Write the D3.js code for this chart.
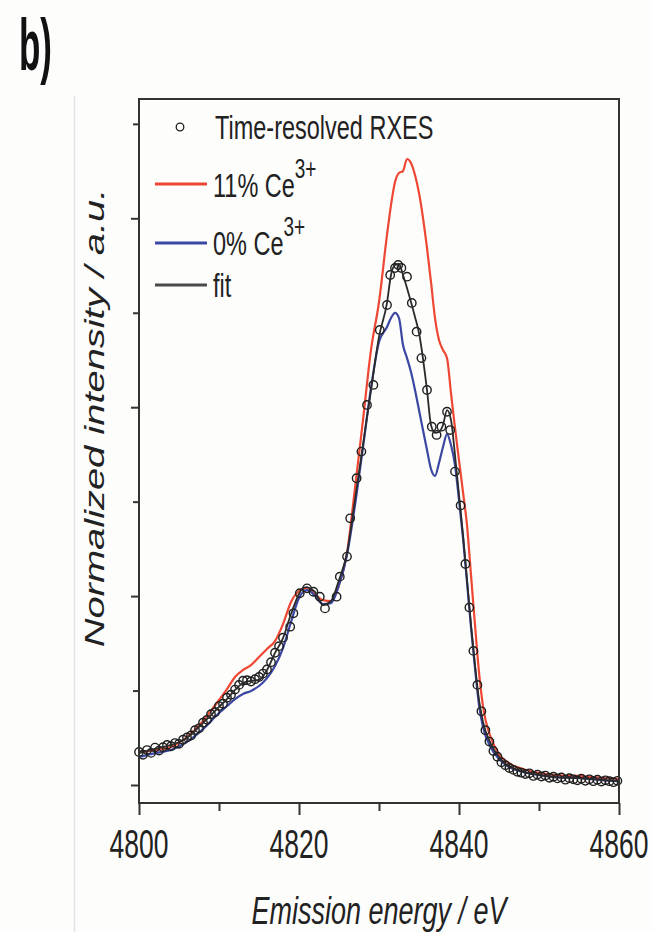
<!DOCTYPE html>
<html>
<head>
<meta charset="utf-8">
<script src="https://cdn.jsdelivr.net/npm/d3@7/dist/d3.min.js"></script>
<style>
  html, body { margin: 0; padding: 0; background: #fdfdfc; }
  svg { display: block; font-family: "Liberation Sans", Arial, sans-serif; }
</style>
</head>
<body>
<div id="chart"></div>
<script>
// Emission energy grid (eV) shared by the three curves
const energy = [4800, 4802, 4804, 4806, 4808, 4810, 4811, 4812, 4813, 4814, 4815, 4816, 4817, 4818, 4819,
  4820, 4820.5, 4821, 4821.5, 4822, 4823, 4824, 4825, 4826, 4827, 4828, 4829, 4830, 4831, 4831.5,
  4832, 4832.5, 4833, 4833.5, 4834, 4834.5, 4835, 4836, 4836.5, 4837, 4837.5, 4838, 4838.5, 4839, 4839.5,
  4840, 4840.5, 4841, 4841.5, 4842, 4842.5, 4843, 4844, 4845, 4846, 4848, 4850, 4852, 4855, 4858, 4860];

// 11% Ce3+ reference (red)
const ce11 = [0.175, 0.185, 0.201, 0.254, 0.339, 0.450, 0.508, 0.572, 0.609, 0.635, 0.678, 0.720, 0.762, 0.852, 0.969,
  1.027, 1.038, 1.043, 1.032, 1.011, 0.979, 0.974, 1.059, 1.228, 1.572, 1.932, 2.303, 2.557, 2.912, 3.070,
  3.192, 3.240, 3.250, 3.314, 3.293, 3.229, 3.134, 2.843, 2.663, 2.472, 2.356, 2.303, 2.260, 2.075, 1.890,
  1.720, 1.551, 1.376, 1.112, 0.847, 0.598, 0.418, 0.249, 0.164, 0.122, 0.085, 0.064, 0.053, 0.048, 0.037, 0.032];

// 0% Ce3+ reference (blue)
const ce0 = [0.148, 0.169, 0.185, 0.228, 0.296, 0.381, 0.418, 0.455, 0.482, 0.498, 0.524, 0.566, 0.630, 0.725, 0.863,
  0.990, 1.022, 1.032, 1.022, 1.001, 0.958, 0.963, 1.059, 1.218, 1.482, 1.789, 2.102, 2.345, 2.425, 2.472,
  2.499, 2.472, 2.329, 2.260, 2.186, 2.091, 1.985, 1.773, 1.673, 1.636, 1.705, 1.789, 1.858, 1.800, 1.694,
  1.509, 1.308, 1.075, 0.836, 0.619, 0.424, 0.307, 0.196, 0.138, 0.101, 0.069, 0.053, 0.042, 0.037, 0.026, 0.021];

// linear combination fit (black)
const fit = [0.169, 0.191, 0.212, 0.249, 0.328, 0.413, 0.455, 0.503, 0.540, 0.551, 0.556, 0.609, 0.699, 0.778, 0.905,
  1.011, 1.043, 1.048, 1.038, 1.022, 0.953, 0.974, 1.085, 1.228, 1.510, 1.800, 2.091, 2.372, 2.552, 2.700,
  2.753, 2.758, 2.700, 2.631, 2.557, 2.478, 2.393, 2.091, 1.906, 1.864, 1.869, 1.906, 1.985, 1.932, 1.747,
  1.535, 1.324, 1.085, 0.847, 0.635, 0.450, 0.334, 0.217, 0.148, 0.106, 0.069, 0.053, 0.042, 0.037, 0.026, 0.021];

// time-resolved RXES measurement (open circles)
const rxesEnergy = [4800, 4800.5, 4801, 4801.5, 4802, 4802.5, 4803, 4803.5, 4804, 4804.5, 4805, 4805.5, 4806, 4806.5,
  4807, 4807.5, 4808, 4808.5, 4809, 4809.5, 4810, 4810.5, 4811, 4811.5, 4812, 4812.5, 4813, 4813.5, 4814, 4814.5,
  4815, 4815.5, 4816, 4816.5, 4817, 4817.5, 4818,
  4818.9, 4819.3, 4820.1, 4821.0, 4821.8, 4822.6, 4823.25, 4824.7, 4825.1, 4826.0, 4826.4, 4827.2, 4827.8, 4828.5,
  4829.3, 4830.1, 4831.0, 4831.4, 4832.0, 4832.4, 4832.8, 4833.5, 4834.1, 4834.7, 4835.3, 4836.0, 4836.6, 4837.2,
  4837.8, 4838.5, 4838.9, 4839.5,
  4840.2, 4840.8, 4841.3, 4841.8, 4842.3, 4842.8, 4843.3, 4843.8, 4844.3, 4844.8, 4845.3, 4845.8, 4846.3, 4846.8,
  4847.3, 4847.8, 4848.3, 4848.8, 4849.3, 4849.8, 4850.3, 4850.8, 4851.3, 4851.8, 4852.3, 4852.8, 4853.3, 4853.8,
  4854.3, 4854.8, 4855.3, 4855.8, 4856.3, 4856.8, 4857.3, 4857.8, 4858.3, 4858.8, 4859.3, 4859.8];
const rxes = [0.175, 0.160, 0.185, 0.170, 0.198, 0.182, 0.200, 0.212, 0.205, 0.222, 0.218, 0.240, 0.252, 0.262,
  0.290, 0.300, 0.330, 0.345, 0.375, 0.385, 0.418, 0.430, 0.462, 0.478, 0.505, 0.530, 0.552, 0.555, 0.548, 0.560,
  0.572, 0.590, 0.612, 0.650, 0.700, 0.735, 0.780,
  0.838, 0.909, 1.015, 1.041, 1.023, 0.997, 0.935, 0.997, 1.103, 1.209, 1.412, 1.624, 1.765, 2.012,
  2.118, 2.409, 2.541, 2.700, 2.737, 2.753, 2.737, 2.691, 2.552, 2.400, 2.260, 2.091, 1.897, 1.853,
  1.897, 1.976, 1.879, 1.659,
  1.480, 1.170, 0.940, 0.710, 0.530, 0.390, 0.290, 0.230, 0.180, 0.150, 0.120, 0.105, 0.090, 0.080,
  0.070, 0.065, 0.058, 0.062, 0.048, 0.055, 0.045, 0.050, 0.038, 0.044, 0.035, 0.040, 0.028, 0.036,
  0.030, 0.025, 0.033, 0.022, 0.030, 0.020, 0.028, 0.018, 0.025, 0.020, 0.015, 0.022];

const xMajorTicks = [4800, 4820, 4840, 4860];
const xMinorTicks = [4810, 4830, 4850];
const yMajorTicks = [0, 1, 2, 3];
const yMinorTicks = [0.5, 1.5, 2.5, 3.5];

const legendItems = [
  { label: 'Time-resolved RXES', sup: '', kind: 'circle' },
  { label: '11% Ce', sup: '3+', kind: 'red' },
  { label: '0% Ce', sup: '3+', kind: 'blue' },
  { label: 'fit', sup: '', kind: 'fit' }
];

const W = 653, H = 932;
const box = { left: 139, right: 619, top: 99, bottom: 803 };
const colors = { red: '#ee4733', blue: '#3a47a3', fit: '#2a2a2a', text: '#222' };
const stretch = 1.45; // glyphs in the figure are vertically stretched

const svg = d3.select('#chart').append('svg')
  .attr('width', W)
  .attr('height', H);

svg.append('rect').attr('width', W).attr('height', H).attr('fill', '#fdfdfc');

// faint panel edge
svg.append('line')
  .attr('x1', 74.5).attr('x2', 74.5).attr('y1', 96).attr('y2', H)
  .attr('stroke', '#e4e4e4').attr('stroke-width', 1.5);

const x = d3.scaleLinear().domain([4800, 4860]).range([box.left, box.right]);
const y = d3.scaleLinear().domain([-0.0953, 3.6316]).range([box.bottom, box.top]);

// helper to draw vertically stretched text
function stretchedText(g, px, py, str, size, opts = {}) {
  const t = g.append('text')
    .attr('transform', `translate(${px},${py}) scale(1,${opts.sy || stretch})`)
    .attr('font-size', size)
    .attr('fill', colors.text)
    .attr('text-anchor', opts.anchor || 'start')
    .attr('font-style', opts.italic ? 'italic' : 'normal')
    .attr('font-weight', opts.bold ? 'bold' : 'normal')
    .text(str);
  return t;
}

// curves
const lineGen = ys => d3.line()
  .x((d, i) => x(energy[i]))
  .y((d, i) => y(ys[i]))
  .curve(d3.curveMonotoneX)(ys);

svg.append('path').attr('d', lineGen(ce11))
  .attr('fill', 'none').attr('stroke', colors.red).attr('stroke-width', 2.2);
svg.append('path').attr('d', lineGen(ce0))
  .attr('fill', 'none').attr('stroke', colors.blue).attr('stroke-width', 2.2);

svg.append('g').selectAll('circle')
  .data(rxes)
  .enter()
  .append('circle')
  .attr('cx', (d, i) => x(rxesEnergy[i]))
  .attr('cy', d => y(d))
  .attr('r', 4.2)
  .attr('fill', 'none')
  .attr('stroke', '#1e1e1e')
  .attr('stroke-width', 1.4);

svg.append('path').attr('d', lineGen(fit))
  .attr('fill', 'none').attr('stroke', colors.fit).attr('stroke-width', 1.8);

// frame
svg.append('rect')
  .attr('x', box.left).attr('y', box.top)
  .attr('width', box.right - box.left).attr('height', box.bottom - box.top)
  .attr('fill', 'none').attr('stroke', '#333').attr('stroke-width', 2);

// x axis ticks
svg.append('g')
  .attr('transform', `translate(0,${box.bottom})`)
  .call(d3.axisBottom(x).tickValues(xMajorTicks).tickSize(12).tickFormat(''))
  .call(g => g.select('.domain').remove())
  .selectAll('line').attr('stroke', '#333').attr('stroke-width', 2);
svg.append('g')
  .attr('transform', `translate(0,${box.bottom})`)
  .call(d3.axisBottom(x).tickValues(xMinorTicks).tickSize(8).tickFormat(''))
  .call(g => g.select('.domain').remove())
  .selectAll('line').attr('stroke', '#333').attr('stroke-width', 2);

// y axis ticks (no labels)
svg.append('g')
  .attr('transform', `translate(${box.left},0)`)
  .call(d3.axisLeft(y).tickValues(yMajorTicks).tickSize(8).tickFormat(''))
  .call(g => g.select('.domain').remove())
  .selectAll('line').attr('stroke', '#333').attr('stroke-width', 2);
svg.append('g')
  .attr('transform', `translate(${box.left},0)`)
  .call(d3.axisLeft(y).tickValues(yMinorTicks).tickSize(6).tickFormat(''))
  .call(g => g.select('.domain').remove())
  .selectAll('line').attr('stroke', '#333').attr('stroke-width', 2);

// x tick labels
xMajorTicks.forEach(v => {
  stretchedText(svg, x(v), 858, String(v), 26.5, { anchor: 'middle', sy: 1.55 });
});

// axis titles
stretchedText(svg, (box.left + box.right) / 2, 924, 'Emission energy / eV', 27, { anchor: 'middle', italic: true });

svg.append('text')
  .attr('transform', `translate(104,418) scale(1,${stretch}) rotate(-90)`)
  .attr('font-size', 27.5)
  .attr('font-style', 'italic')
  .attr('text-anchor', 'middle')
  .attr('fill', colors.text)
  .text('Normalized intensity / a.u.');

// panel label
stretchedText(svg, 19, 70, 'b)', 35, { bold: true, sy: 2.05 }).attr('fill', '#111');

// legend
const legendRows = [139, 197, 255, 297];
const legendMarkY = [127, 184, 243, 285];
legendItems.forEach((item, i) => {
  if (item.kind === 'circle') {
    svg.append('circle')
      .attr('cx', 180).attr('cy', legendMarkY[i]).attr('r', 3.8)
      .attr('fill', 'none').attr('stroke', '#1e1e1e').attr('stroke-width', 1.3);
  } else {
    svg.append('line')
      .attr('x1', 155).attr('x2', 207)
      .attr('y1', legendMarkY[i]).attr('y2', legendMarkY[i])
      .attr('stroke', item.kind === 'fit' ? '#4a4a4a' : colors[item.kind])
      .attr('stroke-width', 3);
  }
  const t = stretchedText(svg, item.kind === 'circle' ? 215 : 213, legendRows[i], item.label, 23.5);
  if (item.sup) {
    t.append('tspan')
      .attr('dy', -13)
      .attr('font-size', 19)
      .text(item.sup);
  }
});
</script>
</body>
</html>
